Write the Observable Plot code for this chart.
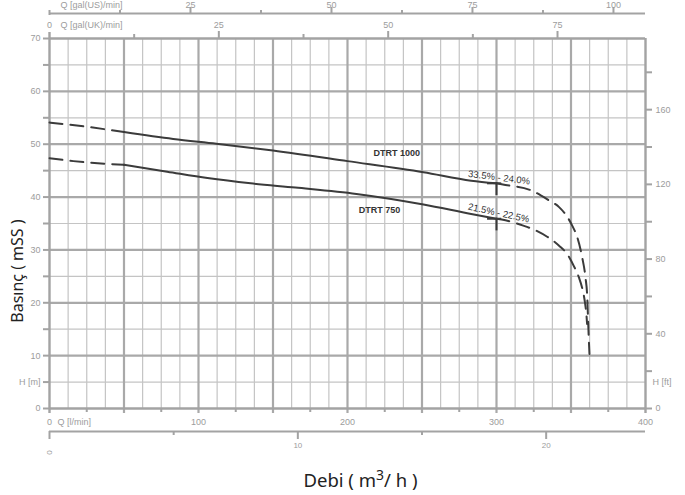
<!DOCTYPE html>
<html><head><meta charset="utf-8">
<script src="https://cdn.jsdelivr.net/npm/d3@7"></script>
<script src="https://cdn.jsdelivr.net/npm/@observablehq/plot@0.6"></script>
<style>body{margin:0;background:#fff;} svg{display:block}</style>
</head><body><div id="chart"></div>
<script>
// ---- unit conversions (axis secondary scales) ----
const L_PER_GAL_UK = 4.546, L_PER_GAL_US = 3.785, LPM_PER_M3H = 1000 / 60;
const FT_PER_M_AXIS = 2.83; // as drawn on the original right axis

// ---- tick labels ----
const lpmLabels = [0, 100, 200, 300, 400];
const lpmMinor = [25, 75, 125, 175, 225, 275, 325, 375];
const ukLabels = [0, 25, 50, 75];
const ukMinor = [12.5, 37.5, 62.5];
const usLabels = [25, 50, 75, 100];
const usMinor = [12.5, 37.5, 62.5, 87.5];
const m3hLabels = [0, 10, 20];
const m3hMinor = [5, 15];
const mLabels = [0, 10, 20, 30, 40, 50, 60, 70];
const ftLabels = [0, 40, 80, 120, 160];
const ftMinor = [20, 60, 100, 140, 180];

// ---- series: [Q l/min, H m] ----
const dtrt1000Left = [[0, 54.1], [25, 53.3], [50, 52.3]];
const dtrt1000Solid = [[50, 52.3], [83, 51.0], [112, 50.1], [150, 48.8], [200, 46.8], [251, 44.7], [283, 43.1], [300, 42.6]];
const dtrt1000Right = [[300, 42.6], [306, 42.3], [323, 41.3], [335, 39.4], [342, 38.1], [347.4, 36.3], [350.8, 34.6], [354.2, 32.4], [357.5, 28.6], [359.7, 24.8], [360.9, 21.1], [361.4, 17.3], [361.9, 13.5], [362.4, 10.3]];

const dtrt750Left = [[0, 47.35], [16, 46.8], [50, 46.1]];
const dtrt750Solid = [[50, 46.1], [79, 44.8], [106, 43.6], [135, 42.6], [165, 41.8], [206, 40.6], [251, 38.6], [283, 36.8], [300, 35.9]];
const dtrt750Right = [[300, 35.9], [306, 35.6], [318, 34.6], [327, 33.6], [334, 32.5], [342, 30.8], [347.5, 29.2], [352, 26.9], [355.3, 24.8], [357.5, 22.8], [359.5, 19.8], [360.3, 17.9], [360.8, 16.0]];

const bepPoints = [[300, 42.6], [300, 35.9]];
const curveNames = [["DTRT 1000", 233, 48.4], ["DTRT 750", 221.5, 37.6]];
const effLabels = [["33.5% - 24.0%", 281, 44.4, 7], ["21.5% - 22.5%", 281, 38.2, 12]];

// ---- styles ----
const FRAME_H = 370, FRAME_W = 596;
const thin = {stroke: "#c4c4c4", strokeWidth: 1.2};
const thick = {stroke: "#a9a9a9", strokeWidth: 2.2};
const axisCol = "#a3a3a3";
const lab = {fill: "#9c9c9c", fontSize: 9, fontFamily: "Liberation Sans, Arial, sans-serif", lineAnchor: "middle"};
const curve = {x: d => d[0], y: d => d[1], stroke: "#3b3b3b", strokeWidth: 2, curve: "monotone-x"};
const dash = {...curve, strokeDasharray: "13,8"};

const svg = Plot.plot({
  width: 685, height: 495,
  marginLeft: 49, marginRight: 40, marginTop: 38, marginBottom: 87,
  x: {domain: [0, 400], axis: null},
  y: {domain: [0, 70], axis: null},
  style: {background: "#fff", fontFamily: "Liberation Sans, Arial, sans-serif"},
  marks: [
    // grid
    Plot.ruleX(d3.range(0, 400.01, 12.5).filter(v => v % 50 !== 0), thin),
    Plot.ruleY(d3.range(5, 70, 10), thin),
    Plot.ruleX(d3.range(50, 400, 50), {...thick, insetBottom: -5}),
    Plot.ruleY(d3.range(10, 70, 10), thick),
    // frame
    Plot.ruleY([70], {stroke: axisCol, strokeWidth: 2.4}),
    Plot.ruleY([0], {stroke: axisCol, strokeWidth: 2.4}),
    Plot.ruleX([0], {stroke: axisCol, strokeWidth: 2.4, insetTop: -6, insetBottom: -5}),
    Plot.ruleX([400], {stroke: axisCol, strokeWidth: 2.4, insetBottom: -5}),
    // bottom l/min minor ticks
    Plot.ruleX(lpmMinor, {stroke: axisCol, strokeWidth: 2, insetTop: FRAME_H, insetBottom: -4}),
    // top UK ticks
    Plot.ruleX(ukLabels.slice(1).map(g => g * L_PER_GAL_UK), {stroke: axisCol, strokeWidth: 2, insetTop: -7, insetBottom: FRAME_H}),
    Plot.ruleX(ukMinor.map(g => g * L_PER_GAL_UK), {stroke: axisCol, strokeWidth: 2, insetTop: -4, insetBottom: FRAME_H}),
    // US axis
    Plot.ruleY([70], {stroke: axisCol, strokeWidth: 2.2, dy: -25}),
    Plot.ruleX(usLabels.map(g => g * L_PER_GAL_US), {stroke: axisCol, strokeWidth: 2, insetTop: -31, insetBottom: FRAME_H + 25}),
    Plot.ruleX(usMinor.map(g => g * L_PER_GAL_US), {stroke: axisCol, strokeWidth: 2, insetTop: -28, insetBottom: FRAME_H + 25}),
    Plot.ruleX([0], {stroke: axisCol, strokeWidth: 2, insetTop: -28, insetBottom: FRAME_H + 23}),
    // m3/h axis
    Plot.ruleY([0], {stroke: axisCol, strokeWidth: 2.2, dy: 23}),
    Plot.ruleX(m3hLabels.map(v => v * LPM_PER_M3H), {stroke: axisCol, strokeWidth: 2, insetTop: FRAME_H + 23, insetBottom: -31}),
    Plot.ruleX(m3hMinor.map(v => v * LPM_PER_M3H), {stroke: axisCol, strokeWidth: 2, insetTop: FRAME_H + 23, insetBottom: -27}),
    // left ticks
    Plot.ruleY(d3.range(0, 70.01, 5), {stroke: axisCol, strokeWidth: 2, insetLeft: -6, insetRight: FRAME_W}),
    // right ft ticks
    Plot.ruleY(ftLabels.concat(ftMinor).map(f => f / FT_PER_M_AXIS), {stroke: axisCol, strokeWidth: 2, insetLeft: FRAME_W, insetRight: -7}),

    // curves
    Plot.line(dtrt1000Left, dash),
    Plot.line(dtrt1000Solid, curve),
    Plot.line(dtrt1000Right, dash),
    Plot.line(dtrt750Left, dash),
    Plot.line(dtrt750Solid, curve),
    Plot.line(dtrt750Right, dash),
    // best efficiency markers
    Plot.ruleX(bepPoints, {x: d => d[0], y1: d => d[1], y2: d => d[1] - 2.3, stroke: "#3b3b3b", strokeWidth: 2}),
    Plot.ruleY(bepPoints, {y: d => d[1], x1: d => d[0] - 6, x2: d => d[0] + 3.5, stroke: "#3b3b3b", strokeWidth: 2}),

    // curve labels
    Plot.text(curveNames, {x: d => d[1], y: d => d[2], text: d => d[0], fontWeight: "bold", fontSize: 9, fill: "#333", fontFamily: "Liberation Sans, Arial, sans-serif"}),
    Plot.text(effLabels, {x: d => d[1], y: d => d[2], text: d => d[0], rotate: d => d[3], textAnchor: "start", fontSize: 9.5, fill: "#333", fontFamily: "Liberation Sans, Arial, sans-serif"}),

    // left labels
    Plot.text(mLabels, {y: d => d, frameAnchor: "left", dx: -9, textAnchor: "end", text: d => String(d), ...lab}),
    Plot.text(["H [m]"], {y: 5, frameAnchor: "left", dx: -9, textAnchor: "end", text: d => d, ...lab}),
    // right labels
    Plot.text(ftLabels, {y: d => d / FT_PER_M_AXIS, frameAnchor: "right", dx: 10, textAnchor: "start", text: d => String(d), ...lab}),
    Plot.text(["H [ft]"], {y: 5, frameAnchor: "right", dx: 7, textAnchor: "start", text: d => d, ...lab}),
    // bottom l/min labels
    Plot.text(lpmLabels, {x: d => d, frameAnchor: "bottom", dy: 14, textAnchor: "middle", text: d => String(d), ...lab}),
    Plot.text(["Q [l/min]"], {x: 0, frameAnchor: "bottom", dy: 14, dx: 8, textAnchor: "start", text: d => d, ...lab}),
    // top UK labels
    Plot.text(ukLabels, {x: d => d * L_PER_GAL_UK, frameAnchor: "top", dy: -13, textAnchor: "middle", text: d => String(d), ...lab}),
    Plot.text(["Q [gal(UK)/min]"], {x: 0, frameAnchor: "top", dy: -13, dx: 11, textAnchor: "start", text: d => d, ...lab}),
    // top US labels
    Plot.text(usLabels, {x: d => d * L_PER_GAL_US, frameAnchor: "top", dy: -33.5, textAnchor: "middle", text: d => String(d), ...lab}),
    Plot.text(["Q [gal(US)/min]"], {x: 0, frameAnchor: "top", dy: -33.5, dx: 11, textAnchor: "start", text: d => d, ...lab}),
    // m3/h labels
    Plot.text(m3hLabels.slice(1), {x: d => d * LPM_PER_M3H, frameAnchor: "bottom", dy: 37, textAnchor: "middle", text: d => String(d), ...lab, fontSize: 8}),
    Plot.text(m3hLabels.slice(0, 1), {x: d => d * LPM_PER_M3H, frameAnchor: "bottom", dy: 44, textAnchor: "middle", rotate: -90, text: d => String(d), ...lab, fontSize: 8}),

    // axis titles
    Plot.text(["Basınç ( mSS )"], {y: 26, frameAnchor: "left", dx: -32, rotate: -90, textAnchor: "middle", lineAnchor: "middle", text: d => d, fontSize: 16, fill: "#222", fontFamily: "Noto Sans, Open Sans, sans-serif"}),
    Plot.text(["Debi ( m3/ h )"], {frameAnchor: "bottom", dx: 13, dy: 73, textAnchor: "middle", lineAnchor: "middle", text: d => d, fontSize: 18.5, fill: "#222", fontFamily: "Noto Sans, Open Sans, sans-serif"})
  ]
});

d3.select(svg).selectAll("text").filter(function() { return this.textContent === "Debi ( m3/ h )"; }).each(function() {
  const t = d3.select(this);
  t.text(null);
  t.append("tspan").text("Debi ( m");
  t.append("tspan").attr("dy", -7).attr("font-size", 14).text("3");
  t.append("tspan").attr("dy", 7).attr("font-size", 18.5).text("/ h )");
});

document.getElementById("chart").appendChild(svg);
</script>
</body></html>
